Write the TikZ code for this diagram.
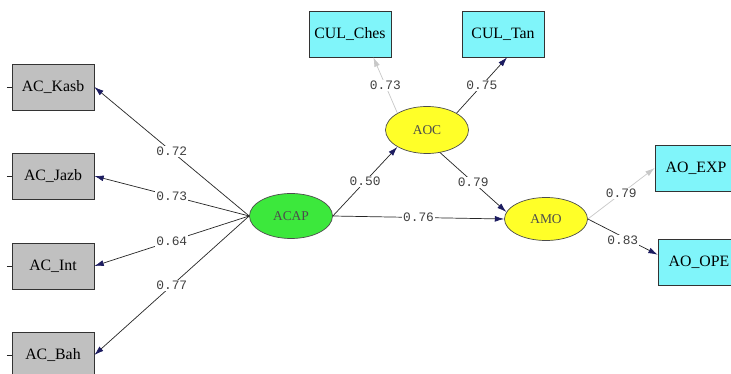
\documentclass[tikz,border=0pt]{standalone}
\usepackage{fontspec}
\setmainfont{Liberation Serif}
\newfontfamily\numfont{Liberation Mono}
\usetikzlibrary{arrows.meta,shapes.geometric}

\definecolor{boxgray}{RGB}{192,192,192}
\definecolor{boxcyan}{RGB}{128,245,250}
\definecolor{ellgreen}{RGB}{60,232,60}
\definecolor{ellyellow}{RGB}{255,255,40}
\definecolor{tipblue}{RGB}{28,28,96}
\definecolor{linegray}{RGB}{200,200,200}

\begin{document}
\begin{tikzpicture}[x=0.03cm, y=-0.03cm,
    obs/.style={draw=black!80, line width=0.6pt, minimum width=2.46cm, minimum height=1.38cm,
        inner sep=0pt, font=\fontsize{13.5}{15}\selectfont},
    lat/.style={ellipse, draw=black!70, line width=0.6pt, minimum width=2.49cm, minimum height=1.35cm,
        inner sep=0pt, text=black!70, font=\fontsize{11.5}{13}\selectfont},
    path/.style={line width=0.6pt, black!85, -{Latex[length=8pt,width=5pt,color=tipblue]}},
    fade/.style={line width=0.6pt, linegray, -{Latex[length=8pt,width=5pt,color=linegray]}},
    coef/.style={fill=white, inner sep=1pt, text=black!75, font=\numfont\fontsize{11}{12}\selectfont}]
    \clip (0,0) rectangle (731,374);
    \fill[white] (0,0) rectangle (731,374);

    % observed indicators
    \node[obs, fill=boxgray] (Kasb) at (53,87) {AC\_Kasb};
    \node[obs, fill=boxgray] (Jazb) at (53,176) {AC\_Jazb};
    \node[obs, fill=boxgray] (Int) at (53,266) {AC\_Int};
    \node[obs, fill=boxgray] (Bah) at (53,355) {AC\_Bah};
    \node[obs, fill=boxcyan] (Ches) at (350,34) {CUL\_Ches};
    \node[obs, fill=boxcyan] (Tan) at (503,34) {CUL\_Tan};
    \node[obs, fill=boxcyan] (EXP) at (696,168) {AO\_EXP};
    \node[obs, fill=boxcyan] (OPE) at (699,262) {AO\_OPE};

    % latent variables
    \node[lat, fill=ellgreen] (ACAP) at (291,216) {ACAP};
    \node[lat, fill=ellyellow, minimum height=1.41cm] (AOC) at (427,130) {AOC};
    \node[lat, fill=ellyellow, minimum height=1.29cm] (AMO) at (546,219) {AMO};

    % error terms (cut at the left edge)
    \foreach \b in {Kasb,Jazb,Int,Bah} {
        \coordinate (e\b) at ([xshift=-1.4mm]\b.west);
        \draw[line width=0.6pt, black!85] (e\b) -- (\b.west);
    }

    % loadings of ACAP
    \draw[path] (ACAP.west) -- (Kasb.east) node[coef, pos=0.5]{0.72};
    \draw[path] (ACAP.west) -- (Jazb.east) node[coef, pos=0.5]{0.73};
    \draw[path] (ACAP.west) -- (Int.east) node[coef, pos=0.5]{0.64};
    \draw[path] (ACAP.west) -- (Bah.east) node[coef, pos=0.5]{0.77};

    % structural paths
    \draw[path] (ACAP.east) -- (AOC.south west) node[coef, pos=0.5]{0.50};
    \draw[path] (ACAP.east) -- (AMO.west) node[coef, pos=0.5]{0.76};
    \draw[path] (AOC.-60) -- (AMO.170) node[coef, pos=0.5]{0.79};

    % loadings of AOC and AMO
    \draw[fade] (AOC.north west) -- (Ches.-45) node[coef, pos=0.5]{0.73};
    \draw[path] (AOC.north east) -- (Tan.-80) node[coef, pos=0.5]{0.75};
    \draw[fade] (AMO.east) -- (EXP.west) node[coef, pos=0.5]{0.79};
    \draw[path] (AMO.east) -- (OPE.170) node[coef, pos=0.5, yshift=-1mm]{0.83};
\end{tikzpicture}
\end{document}
